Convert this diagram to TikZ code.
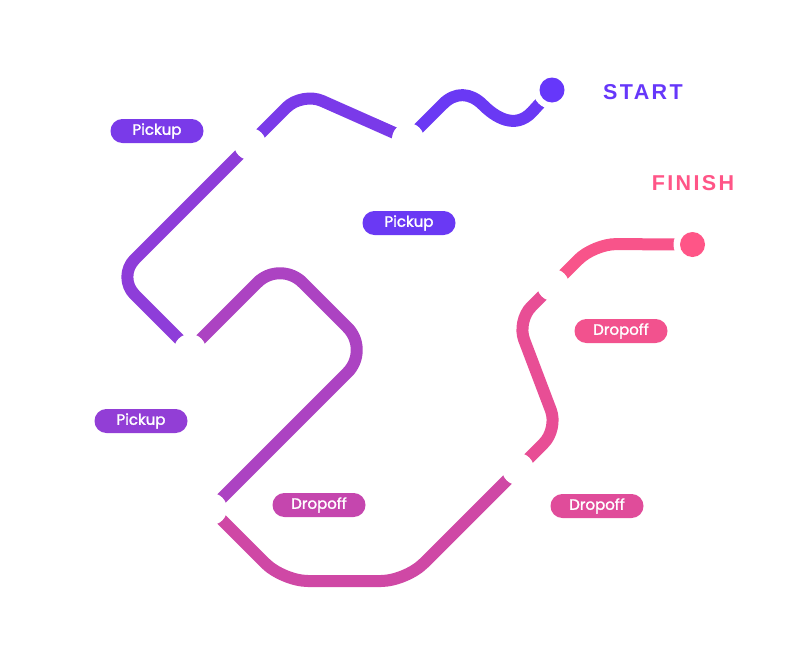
\documentclass[tikz,border=0pt]{standalone}
\usepackage{fontspec}
\setmainfont{Poppins}
\newfontfamily\tagfont[FakeBold=1.6]{Poppins}
\newfontfamily\headfont[LetterSpace=11]{Liberation Sans}
\usepackage{tikz}
\usetikzlibrary{positioning, calc}
\definecolor{RouteA}{HTML}{6A39F4}
\definecolor{RouteB}{HTML}{7A3AE9}
\definecolor{RouteC}{HTML}{8E3DD9}
\definecolor{RouteD}{HTML}{AC43C2}
\definecolor{RouteE}{HTML}{CF48A5}
\definecolor{RouteF}{HTML}{E84E95}
\definecolor{RouteG}{HTML}{F8548A}
\definecolor{StartBlue}{HTML}{6637FA}
\definecolor{FinishPink}{HTML}{FF5587}

\begin{document}
\begin{tikzpicture}[
  x=1pt, y=-1pt,
  route/.style={line width=12pt, line join=round},
  gap/.style={circle, fill=white, minimum size=32pt, inner sep=0pt},
  tag/.style={rounded corners=11.9pt, minimum width=93pt, minimum height=24pt, inner sep=0pt, text=white, font=\tagfont\fontsize{15}{15}\selectfont},
  head/.style={font=\headfont\bfseries\fontsize{21.5}{21.5}\selectfont},
]
  \useasboundingbox (0,0) rectangle (800,656);

  % Stops along the route
  \coordinate (s1) at (408,139);
  \coordinate (s2) at (250,144);
  \coordinate (s3) at (190,350);
  \coordinate (s4) at (211,509);
  \coordinate (s5) at (518,469);
  \coordinate (s6) at (553,285);
  \coordinate (go) at (552,90);
  \coordinate (end) at (692.5,244.5);

  % Route pieces
  \draw[route, RouteA] (go) -- (532,112) .. controls (515,130) and (495,117) .. (483,105)
    .. controls (470,92) and (455,92) .. (443,104) -- (s1);
  \draw[route, RouteB, rounded corners=22pt] (s1) -- (302,92) -- (s2);
  \draw[route, RouteC, rounded corners=25pt] (s2) -- (117,277) -- (s3);
  \draw[route, RouteD, rounded corners=32pt] (s3) -- (280,260) -- (370,350) -- (s4);
  \draw[route, RouteE, rounded corners=25pt] (s4) -- (283,581) -- (406,581) -- (s5);
  \draw[route, RouteF, rounded corners=20pt] (s5) -- (558,429) -- (517,321) -- (s6);
  \draw[route, RouteG, rounded corners=22pt] (s6) -- (594,244) -- (end);

  % Gaps and end dots
  \foreach \s in {s1, s2, s3, s4, s5, s6}
    \node[gap] (g\s) at (\s) {};
  \node[circle, fill=white, minimum size=38pt, inner sep=0pt] (goring) at (go) {};
  \node[circle, fill=StartBlue, minimum size=25pt, inner sep=0pt] (godot) at (go) {};
  \node[circle, fill=white, minimum size=38pt, inner sep=0pt] (endring) at (end) {};
  \node[circle, fill=FinishPink, minimum size=25pt, inner sep=0pt] (enddot) at (end) {};

  % Labels
  \node[head, text=StartBlue] (starttxt) at (643,92) {START};
  \node[head, text=FinishPink] (finishtxt) at (693,183) {FINISH};

  \node[tag, fill=RouteB] (pick1) at (157,131) {Pickup};
  \node[tag, fill=RouteA] (pick2) at (409,223) {Pickup};
  \node[tag, fill=RouteC!85!RouteD] (pick3) at (141,421) {Pickup};
  \node[tag, fill=RouteD!30!RouteE] (drop1) at (319,505) {Dropoff};
  \node[tag, fill=RouteF!70!RouteE] (drop2) at (597,506) {Dropoff};
  \node[tag, fill=RouteG!60!RouteF] (drop3) at (621,331) {Dropoff};
\end{tikzpicture}
\end{document}
